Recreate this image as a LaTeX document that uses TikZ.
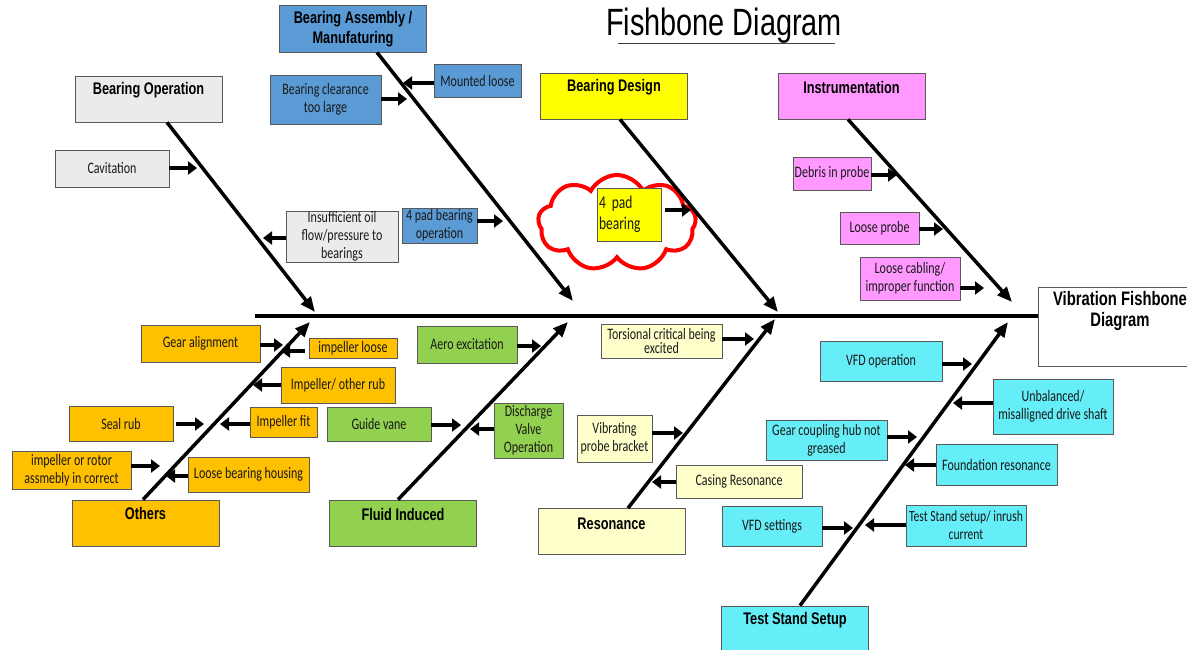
\documentclass[tikz,border=0pt]{standalone}
\usepackage{fontspec}
\setmainfont{Liberation Sans}
\newfontfamily\lab[FakeStretch=0.75]{Carlito}
\newfontfamily\hdf[FakeStretch=0.76]{Liberation Sans}
\usetikzlibrary{arrows.meta,shapes.symbols}
\definecolor{cgray}{HTML}{EBEBEB}
\definecolor{cblue}{HTML}{5B9BD5}
\definecolor{cyel}{HTML}{FFFF00}
\definecolor{cpink}{HTML}{FF99FF}
\definecolor{corange}{HTML}{FFC000}
\definecolor{cgreen}{HTML}{92D050}
\definecolor{clyel}{HTML}{FFFFCC}
\definecolor{ccyan}{HTML}{66EEF8}
\begin{document}
\begin{tikzpicture}[x=1pt,y=-1pt,
  box/.style={draw=black!65, line width=0.8pt, inner sep=0pt},
  head/.style={box, minimum width=147pt, minimum height=46pt},
  htxt/.style={font=\hdf\bfseries\fontsize{16.8}{19.5}\selectfont, align=center, inner sep=0pt, text=black},
  cause/.style={box, font=\lab\fontsize{16}{17.8}\selectfont, align=center, text=black!90},
  sz/.style 2 args={minimum width=#1pt, minimum height=#2pt},
  sub/.style={line width=4.5pt, -{Triangle[length=9pt,width=13pt]}},
  bone/.style={line width=3.5pt, -{Triangle[length=15pt,width=12pt]}},
]
\clip (0,0) rectangle (1187,649);
\fill[white] (0,0) rectangle (1187,649);

% title
\node[font=\hdf\fontsize{38}{40}\selectfont, inner sep=0pt] (title) at (724,26) {Fishbone Diagram};
\coordinate (ulA) at (618,43);
\coordinate (ulB) at (835,43);
\draw[black!75, line width=1pt] (ulA) -- (ulB);

% cloud
\node[cloud, draw=red, line width=4pt, cloud puffs=9, cloud puff arc=125, minimum width=158pt, minimum height=96pt] (cloud) at (617,223) {};

% main box and spine
\node[box, sz={164}{79}, fill=white] (main) at (1120,326.5) {};
\node[htxt, font=\hdf\bfseries\fontsize{19.5}{21}\selectfont] (mainT) at (1120,311) {Vibration Fishbone\\Diagram};
\coordinate (spL) at (255,316);
\draw[line width=4pt] (spL) -- (spL -| main.west);

% heads
\node[head, fill=cgray] (bop) at (148.5,99) {};
\node[htxt] (bopT) at (148.5,90.5) {Bearing Operation};
\node[head, fill=cblue, minimum height=47pt] (bam) at (353,28.5) {};
\node[htxt] (bamT) at (353,29) {Bearing Assembly /\\Manufaturing};
\node[head, fill=cyel] (bd) at (614,96) {};
\node[htxt] (bdT) at (614,87.5) {Bearing Design};
\node[head, fill=cpink] (ins) at (851.5,96) {};
\node[htxt] (insT) at (851.5,87.5) {Instrumentation};
\node[head, fill=corange] (oth) at (145.5,523) {};
\node[htxt] (othT) at (145.5,513.5) {Others};
\node[head, fill=cgreen] (fi) at (403,523) {};
\node[htxt] (fiT) at (403,514.5) {Fluid Induced};
\node[head, fill=clyel] (res) at (611.5,531.5) {};
\node[htxt] (resT) at (611.5,523.5) {Resonance};
\node[head, fill=ccyan] (tss) at (795,629) {};
\node[htxt] (tssT) at (795,620.5) {Test Stand Setup};

% bones
\coordinate (bopE) at (315,312);
\coordinate (bamE) at (573,301);
\coordinate (bdE) at (778,312);
\coordinate (insE) at (1012,302);
\coordinate (othE) at (310,322);
\coordinate (fiE) at (568,322);
\coordinate (resE) at (775,319);
\coordinate (tssE) at (1008,322);
\draw[bone] ([xshift=18.5pt]bop.south) -- (bopE);
\draw[bone] ([xshift=24pt]bam.south) -- (bamE);
\draw[bone] ([xshift=6pt]bd.south) -- (bdE);
\draw[bone] ([xshift=-3.5pt]ins.south) -- (insE);
\draw[bone] ([xshift=-2.5pt]oth.north) -- (othE);
\draw[bone] ([xshift=-5pt]fi.north) -- (fiE);
\draw[bone] ([xshift=16.5pt]res.north) -- (resE);
\draw[bone] ([xshift=5pt]tss.north) -- (tssE);

% Bearing Operation causes
\node[cause, fill=cgray, sz={114}{37}] (cav) at (112,168.5) {Cavitation};
\node[cause, fill=cgray, sz={112}{51}] (oil) at (342,236.5) {Insufficient oil\\flow/pressure to\\bearings};
\coordinate (cavT) at (197,168);
\coordinate (oilT) at (263,238);
\draw[sub] (cav.east |- cavT) -- (cavT);
\draw[sub] (oil.west |- oilT) -- (oilT);

% Bearing Assembly causes
\node[cause, fill=cblue, sz={111}{49}] (bcl) at (325.5,99.5) {Bearing clearance\\too large};
\node[cause, fill=cblue, sz={87}{33}] (mnt) at (477.5,80.5) {Mounted loose};
\node[cause, fill=cblue, sz={75}{35}] (pad) at (439.5,225.5) {4 pad bearing\\operation};
\coordinate (bclT) at (407,99);
\coordinate (mntT) at (403,83);
\coordinate (padT) at (503,221);
\draw[sub] (bcl.east |- bclT) -- (bclT);
\draw[sub] (mnt.west |- mntT) -- (mntT);
\draw[sub] (pad.east |- padT) -- (padT);

% Bearing Design cause
\node[cause, fill=cyel, sz={64}{53}, align=left, text width=60pt, inner xsep=2pt, font=\lab\fontsize{18}{21}\selectfont] (fpad) at (629,214.5) {4 pad\\bearing};
\coordinate (fpadT) at (691,210);
\draw[sub] ([xshift=4pt]fpad.east |- fpadT) -- (fpadT);

% Instrumentation causes
\node[cause, fill=cpink, sz={78}{33}] (deb) at (832,173.5) {Debris in probe};
\node[cause, fill=cpink, sz={79}{32}] (lpr) at (879.5,228) {Loose probe};
\node[cause, fill=cpink, sz={100}{43}] (lcab) at (910,278.5) {Loose cabling/\\improper function};
\coordinate (debT) at (897,175);
\coordinate (lprT) at (943,229);
\coordinate (lcabT) at (984,288);
\draw[sub] (deb.east |- debT) -- (debT);
\draw[sub] (lpr.east |- lprT) -- (lprT);
\draw[sub] (lcab.east |- lcabT) -- (lcabT);

% Others causes
\node[cause, fill=corange, sz={119}{37}] (gear) at (200.5,343.5) {Gear alignment};
\node[cause, fill=corange, sz={88}{20}] (implo) at (353,348) {impeller loose};
\node[cause, fill=corange, sz={114}{36}] (imprub) at (338,385) {Impeller/ other rub};
\node[cause, fill=corange, sz={104}{35}] (seal) at (121,423.5) {Seal rub};
\node[cause, fill=corange, sz={67}{30}] (impfit) at (283.5,422) {Impeller fit};
\node[cause, fill=corange, sz={119}{38}] (rotor) at (71.5,470) {impeller or rotor\\assmebly in correct};
\node[cause, fill=corange, sz={121}{35}] (lbh) at (248.5,474.5) {Loose bearing housing};
\coordinate (gearT) at (283,345);
\coordinate (imploT) at (281,351);
\coordinate (imprubT) at (253,385);
\coordinate (sealT) at (204,424);
\coordinate (impfitT) at (220,424);
\coordinate (rotorT) at (160,466);
\coordinate (lbhT) at (166,476);
\draw[sub] (gear.east |- gearT) -- (gearT);
\draw[sub] ([xshift=-4pt]implo.west |- imploT) -- (imploT);
\draw[sub] (imprub.west |- imprubT) -- (imprubT);
\draw[sub] ([xshift=3pt]seal.east |- sealT) -- (sealT);
\draw[sub] (impfit.west |- impfitT) -- (impfitT);
\draw[sub] (rotor.east |- rotorT) -- (rotorT);
\draw[sub] (lbh.west |- lbhT) -- (lbhT);

% Fluid Induced causes
\node[cause, fill=cgreen, sz={100}{37}] (aero) at (467,344.5) {Aero excitation};
\node[cause, fill=cgreen, sz={104}{34}] (guide) at (379,424) {Guide vane};
\node[cause, fill=cgreen, sz={69}{55}] (disc) at (528.5,430.5) {Discharge\\Valve\\Operation};
\coordinate (aeroT) at (541,346);
\coordinate (guideT) at (461,425);
\coordinate (discT) at (470,429);
\draw[sub] (aero.east |- aeroT) -- (aeroT);
\draw[sub] (guide.east |- guideT) -- (guideT);
\draw[sub] (disc.west |- discT) -- (discT);

% Resonance causes
\node[cause, fill=clyel, sz={121}{34}, font=\lab\fontsize{16}{11.5}\selectfont] (tors) at (661.5,341) {Torsional critical being\\excited};
\node[cause, fill=clyel, sz={75}{47}] (vib) at (614.5,438.5) {Vibrating\\probe bracket};
\node[cause, fill=clyel, sz={126}{33}] (cas) at (739,481.5) {Casing Resonance};
\coordinate (torsT) at (754,339);
\coordinate (vibT) at (683,433);
\coordinate (casT) at (652,482);
\draw[sub] (tors.east |- torsT) -- (torsT);
\draw[sub] (vib.east |- vibT) -- (vibT);
\draw[sub] (cas.west |- casT) -- (casT);

% Test Stand Setup causes
\node[cause, fill=ccyan, sz={122}{40}] (vfdop) at (881,361) {VFD operation};
\node[cause, fill=ccyan, sz={120}{55}] (unbal) at (1053,406.5) {Unbalanced/\\misalligned drive shaft};
\node[cause, fill=ccyan, sz={121}{40}] (gch) at (826.5,440) {Gear coupling hub not\\greased};
\node[cause, fill=ccyan, sz={121}{41}] (found) at (996.5,464.5) {Foundation resonance};
\node[cause, fill=ccyan, sz={100}{40}] (vfdset) at (772,526) {VFD settings};
\node[cause, fill=ccyan, sz={120}{41}, font=\lab\fontsize{15.5}{17.8}\selectfont] (tsi) at (966,525.5) {Test Stand setup/ inrush\\current};
\coordinate (vfdopT) at (972,364);
\coordinate (unbalT) at (953,403);
\coordinate (gchT) at (917,437);
\coordinate (foundT) at (905,465);
\coordinate (vfdsetT) at (853,528);
\coordinate (tsiT) at (865,525);
\draw[sub] (vfdop.east |- vfdopT) -- (vfdopT);
\draw[sub] (unbal.west |- unbalT) -- (unbalT);
\draw[sub] (gch.east |- gchT) -- (gchT);
\draw[sub] (found.west |- foundT) -- (foundT);
\draw[sub] (vfdset.east |- vfdsetT) -- (vfdsetT);
\draw[sub] (tsi.west |- tsiT) -- (tsiT);
\end{tikzpicture}
\end{document}
